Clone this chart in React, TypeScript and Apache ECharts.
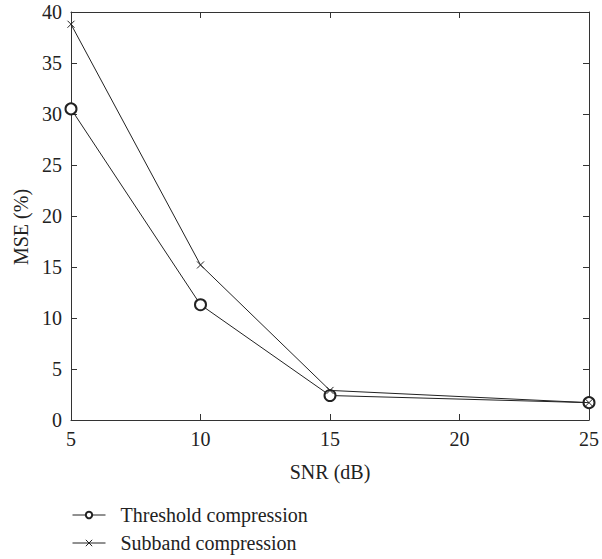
import React, { useEffect, useRef } from "react";
import * as echarts from "echarts";

const snr = [5, 10, 15, 25];
const thresholdMse = [30.5, 11.3, 2.4, 1.7];
const subbandMse = [38.8, 15.2, 2.9, 1.7];
const seriesNames = ["Threshold compression", "Subband compression"];
const xTitle = "SNR (dB)";
const yTitle = "MSE (%)";

const FONT = "'Liberation Serif', 'DejaVu Serif', serif";
const INK = "#222";
const AXIS = "#333";

export default function App() {
  const ref = useRef<HTMLDivElement>(null);
  useEffect(() => {
    if (!ref.current) return;
    const chart = echarts.init(ref.current, undefined, { renderer: "svg" });
    const pairs = (ys: number[]) => snr.map((x, i) => [x, ys[i]]);
    const axisCommon = {
      axisLine: { show: true, onZero: false, lineStyle: { color: AXIS, width: 1 } },
      axisTick: { show: true, inside: true, length: 6, lineStyle: { color: AXIS } },
      splitLine: { show: false },
    };
    chart.setOption({
      animation: false,
      backgroundColor: "#fff",
      textStyle: { fontFamily: FONT, color: INK },
      grid: { left: 71, right: 11, top: 12, bottom: 139, containLabel: false },
      legend: {
        left: 72,
        top: 505,
        padding: 0,
        orient: "vertical",
        itemWidth: 33,
        itemHeight: 8,
        itemGap: 8,
        itemStyle: { borderWidth: 1 },
        lineStyle: { width: 1 },
        textStyle: { fontFamily: FONT, fontSize: 20, lineHeight: 20, color: INK, padding: [0, 0, 0, 10] },
        data: seriesNames,
      },
      xAxis: [
        {
          type: "value",
          min: 5,
          max: 25,
          interval: 5,
          name: xTitle,
          nameLocation: "middle",
          nameGap: 42,
          nameTextStyle: { fontFamily: FONT, fontSize: 20, color: INK },
          axisLabel: { fontFamily: FONT, fontSize: 20, color: INK, margin: 9 },
          ...axisCommon,
        },
        {
          type: "value",
          position: "top",
          min: 5,
          max: 25,
          interval: 5,
          axisLabel: { show: false },
          ...axisCommon,
        },
      ],
      yAxis: [
        {
          type: "value",
          min: 0,
          max: 40,
          interval: 5,
          name: yTitle,
          nameLocation: "middle",
          nameGap: 34,
          nameTextStyle: { fontFamily: FONT, fontSize: 20, color: INK, padding: [0, 22, 0, 0] },
          axisLabel: { fontFamily: FONT, fontSize: 20, color: INK, margin: 9 },
          ...axisCommon,
        },
        {
          type: "value",
          position: "right",
          min: 0,
          max: 40,
          interval: 5,
          axisLabel: { show: false },
          ...axisCommon,
        },
      ],
      series: [
        {
          name: seriesNames[0],
          type: "line",
          data: pairs(thresholdMse),
          symbol: "emptyCircle",
          symbolSize: 11,
          showAllSymbol: true,
          lineStyle: { color: INK, width: 1 },
          itemStyle: { color: INK, borderColor: INK, borderWidth: 1 },
          z: 2,
        },
        {
          name: seriesNames[1],
          type: "line",
          data: pairs(subbandMse),
          symbol: "path://M0,0L10,10M10,0L0,10",
          symbolSize: 7,
          showAllSymbol: true,
          lineStyle: { color: INK, width: 1 },
          itemStyle: { color: INK, borderColor: INK, borderWidth: 1 },
          z: 3,
        },
      ],
    });
    return () => chart.dispose();
  }, []);
  return (
    <div
      ref={ref}
      style={{ position: "absolute", left: 0, top: 0, width: 602, height: 559, background: "#fff" }}
    />
  );
}
